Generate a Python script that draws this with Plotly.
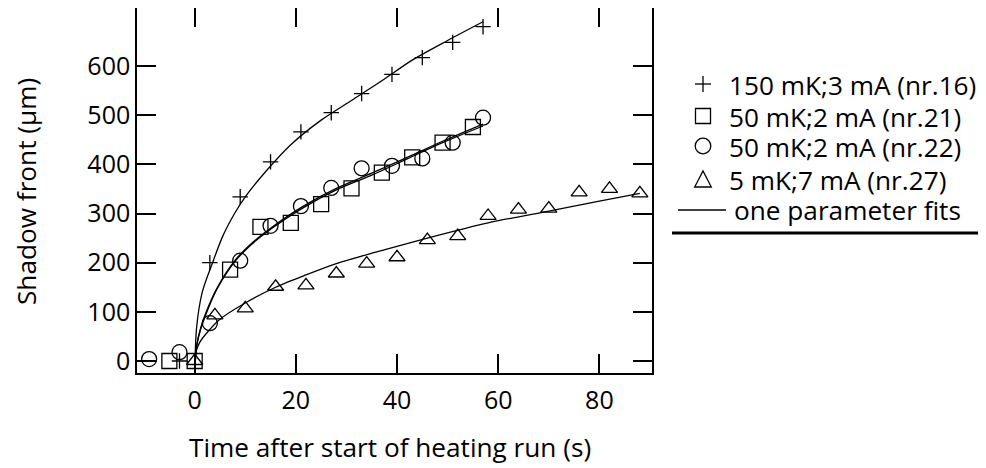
import plotly.graph_objects as go

# ---- data ----
plus_t = [-3, 3, 9, 15, 21, 27, 33, 39, 45, 51, 57]
plus_y = [0, 200, 334, 405, 466, 505, 544, 583, 617, 648, 680]

sq_t = [-5, 0, 7, 13, 19, 25, 31, 37, 43, 49, 55]
sq_y = [0, 0, 186, 273, 281, 319, 351, 383, 414, 444, 476]

circ_t = [-9, -3, 3, 9, 15, 21, 27, 33, 39, 45, 51, 57]
circ_y = [4, 18, 77, 204, 275, 315, 352, 392, 397, 412, 444, 495]

tri_t = [0, 4, 10, 16, 22, 28, 34, 40, 46, 52, 58, 64, 70, 76, 82, 88]
tri_y = [0, 93, 107, 151, 154, 178, 198, 211, 246, 254, 295, 308, 310, 343, 350, 341]

# fit curves
fit16_t = [0, 0.4, 1.5, 3.5, 5.6, 8, 10, 14, 19, 25, 31, 37, 43, 50, 57]
fit16_y = [-24, 70, 140, 199, 255, 302, 334, 385, 440, 490, 530, 570, 612, 652, 690]

fit21_t = [0, 0.4, 1.2, 2.8, 4.5, 8, 11, 15, 21, 28, 35, 42, 49, 57]
fit21_y = [-24, 30, 65, 110, 148, 203, 235, 268, 309, 348, 378, 411, 444, 478]

fit22_t = [0, 0.4, 1.2, 2.8, 4.5, 8, 11, 15, 21, 28, 35, 42, 49, 57]
fit22_y = [-24, 32, 68, 113, 150, 205, 237, 270, 312, 351, 382, 414, 447, 482]

fit27_t = [0, 0.3, 1, 2.3, 5, 10, 16, 22, 28, 36, 46, 58, 70, 80, 88]
fit27_y = [-24, 20, 38, 56, 85, 118, 150, 175, 198, 222, 250, 281, 305, 325, 341]

labels = ["150 mK;3 mA (nr.16)", "50 mK;2 mA (nr.21)", "50 mK;2 mA (nr.22)",
          "5 mK;7 mA (nr.27)", "one parameter fits"]

x_ticks = [0, 20, 40, 60, 80]
y_ticks = [0, 100, 200, 300, 400, 500, 600]

FONT = "Open Sans"
FS_TICK = 25
FS_TEXT = 26.2

# The page body has an 8 px margin; the figure is sized so that it ends at the
# window edge.  Positions below are given in window pixels.
OFF = 8
FIG_W, FIG_H = 986 - OFF, 468 - OFF
L, R, T, B = 137, 652, 8, 373          # plot area, window pixels
PW, PH = R - L, B - T


def px(xp):
    return (xp - L) / PW


def py(yp):
    return (B - yp) / PH


fig = go.Figure()

fit_line = dict(color="black", width=1.3, shape="spline", smoothing=0.8)
for ft, fy in [(fit16_t, fit16_y), (fit21_t, fit21_y), (fit22_t, fit22_y), (fit27_t, fit27_y)]:
    fig.add_trace(go.Scatter(x=ft, y=fy, mode="lines", line=fit_line,
                             name=labels[4], showlegend=False, hoverinfo="skip"))

mk_line = dict(color="black", width=1.3)
series = [
    (plus_t, plus_y, "cross-thin", 11, labels[0]),
    (sq_t, sq_y, "square-open", 15, labels[1]),
    (circ_t, circ_y, "circle-open", 15, labels[2]),
    (tri_t, tri_y, "triangle-up-open", 14, labels[3]),
]
for t, y, sym, sz, name in series:
    fig.add_trace(go.Scatter(x=t, y=y, mode="markers", name=name, showlegend=False,
                             marker=dict(symbol=sym, size=sz, color="black", line=mk_line)))

axis_common = dict(showline=True, linecolor="black", linewidth=1.5, mirror="allticks",
                   ticks="inside", ticklen=19, tickwidth=1.5, tickcolor="black",
                   showgrid=False, zeroline=False,
                   tickfont=dict(family=FONT, size=FS_TICK, color="black"))

fig.update_xaxes(range=[-11.4, 90.4], tickvals=x_ticks, ticklabelstandoff=4, **axis_common)
fig.update_yaxes(range=[-24.4, 718], tickvals=y_ticks, ticklabelstandoff=0, **axis_common)

fig.add_annotation(text="Shadow front (µm)", xref="paper", yref="paper",
                   x=px(26), y=py(192), textangle=-90,
                   showarrow=False, xanchor="center", yanchor="middle",
                   font=dict(family=FONT, size=FS_TEXT, color="black"))
fig.add_annotation(text="Time after start of heating run (s)", xref="paper", yref="paper",
                   x=px(390), y=py(447),
                   showarrow=False, xanchor="center", yanchor="middle",
                   font=dict(family=FONT, size=FS_TEXT, color="black"))

# ---- legend, drawn as text plus small symbol shapes ----
rows = [84, 116, 146, 179, 209]
for i, lab in enumerate(labels):
    fig.add_annotation(text=lab, xref="paper", yref="paper",
                       x=px(727 if i < 4 else 732), y=py(rows[i] + 1),
                       showarrow=False, xanchor="left", yanchor="middle",
                       font=dict(family=FONT, size=FS_TEXT, color="black"))

sym_line = dict(color="black", width=1.3)
cx = 703
# plus
fig.add_shape(type="line", xref="paper", yref="paper", x0=px(cx - 8), x1=px(cx + 8),
              y0=py(rows[0]), y1=py(rows[0]), line=sym_line)
fig.add_shape(type="line", xref="paper", yref="paper", x0=px(cx), x1=px(cx),
              y0=py(rows[0] - 8), y1=py(rows[0] + 8), line=sym_line)
# square
fig.add_shape(type="rect", xref="paper", yref="paper", x0=px(cx - 7.5), x1=px(cx + 7.5),
              y0=py(rows[1] - 7.5), y1=py(rows[1] + 7.5), line=sym_line)
# circle
fig.add_shape(type="circle", xref="paper", yref="paper", x0=px(cx - 7.8), x1=px(cx + 7.8),
              y0=py(rows[2] - 7.8), y1=py(rows[2] + 7.8), line=sym_line)
# triangle
ty = rows[3]
fig.add_shape(type="path", xref="paper", yref="paper",
              path=f"M{px(cx - 8.3)},{py(ty + 8)} L{px(cx + 8.3)},{py(ty + 8)} "
                   f"L{px(cx)},{py(ty - 8)} Z",
              line=sym_line)
# fit line sample
fig.add_shape(type="line", xref="paper", yref="paper", x0=px(678), x1=px(726),
              y0=py(rows[4] + 1), y1=py(rows[4] + 1), line=sym_line)
# rule under the legend
fig.add_shape(type="line", xref="paper", yref="paper",
              x0=px(672), x1=px(986), y0=py(233), y1=py(233),
              line=dict(color="black", width=3))

fig.update_layout(
    width=FIG_W, height=FIG_H,
    margin=dict(l=L - OFF, r=986 - R, t=T - OFF, b=468 - B, autoexpand=False),
    paper_bgcolor="white", plot_bgcolor="white",
    font=dict(family=FONT, size=FS_TICK, color="black"),
    showlegend=False,
)

fig.write_html("out.html")
